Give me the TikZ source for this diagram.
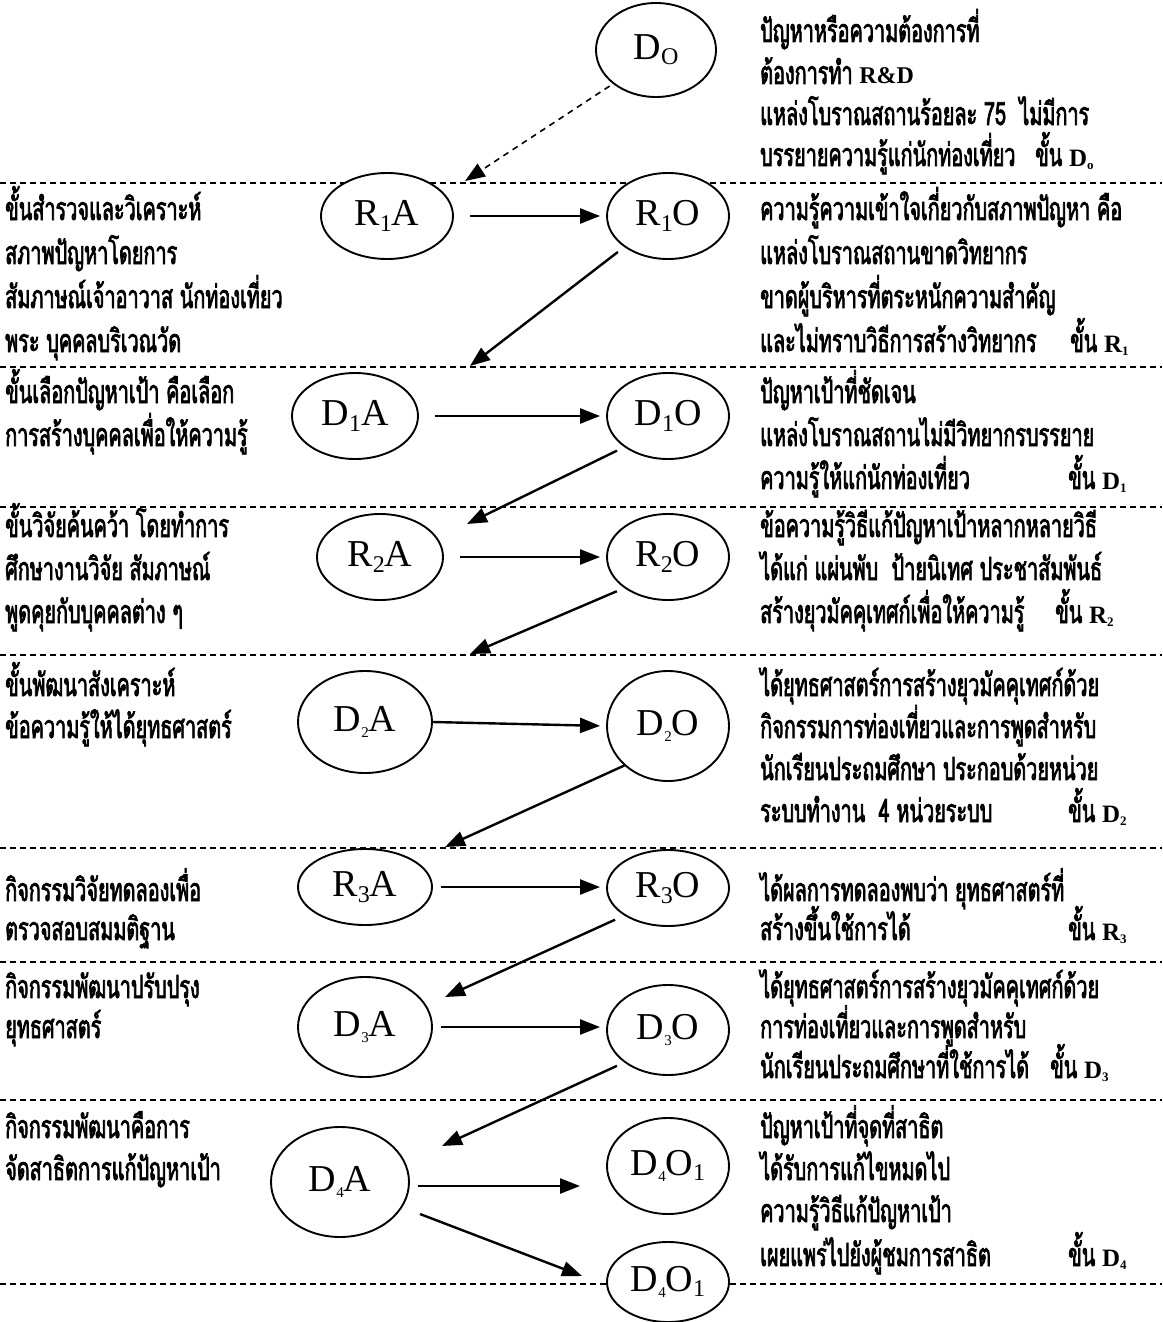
\documentclass[tikz,border=0pt]{standalone}
\usepackage{fontspec}
\setmainfont{Liberation Serif}
\newfontfamily\thaifont[Script=Thai,FakeStretch=0.62,FakeBold=2.2]{Loma}
\usetikzlibrary{arrows.meta,shapes.geometric}
\newcommand\sbs[1]{\raisebox{-0.3ex}{\fontsize{24}{24}\selectfont #1}}
\newcommand\sbt[1]{\raisebox{-0.35ex}{\fontsize{15}{15}\selectfont #1}}
\newcommand\stagelbl[2]{ขั้น {\rmfamily\bfseries\fontsize{25}{25}\selectfont #1\raisebox{-0.3ex}{\fontsize{13}{13}\selectfont #2}}}
\tikzset{
 oval/.style={ellipse,draw,line width=1.9pt,fill=white,inner sep=0pt,
   minimum width=126pt,minimum height=86pt,font=\fontsize{38}{38}\selectfont},
 th/.style={anchor=base west,inner sep=0pt,font=\thaifont\fontsize{32}{34}\selectfont},
 sep/.style={dash pattern=on 6pt off 4pt,line width=1.5pt},
 arr/.style={line width=2.4pt,-{Triangle[length=20pt,width=15pt]}},
 darr/.style={line width=1.6pt,dash pattern=on 6pt off 5pt,-{Triangle[length=20pt,width=15pt]}},
}
\begin{document}
\begin{tikzpicture}[x=1pt,y=-1pt]
\useasboundingbox (0,0) rectangle (1162,1322);
% separators
\foreach \yy in {183,367,507,655,848,962,1100,1284}
  \draw[sep] (0,\yy) -- (1162,\yy);
% ---------- row D0
\node[oval,minimum width=120pt,minimum height=94pt] (D0) at (656,50) {D\sbs{O}};
\node[th] (t0a) at (760,42) {ปัญหาหรือความต้องการที่};
\node[th] (t0b) at (760,84) {ต้องการทำ {\rmfamily\bfseries\fontsize{24}{24}\selectfont R\&D}};
\node[th] (t0c) at (760,125) {แหล่งโบราณสถานร้อยละ 75\ \ ไม่มีการ};
\node[th] (t0d) at (760,166) {บรรยายความรู้แก่นักท่องเที่ยว};
\node[th] (s0) at (1035,166) {\stagelbl{D}{o}};
\coordinate (tip0) at (465,181);
\draw[darr,shorten <=4pt] (D0.south west) -- (tip0);
% ---------- row R1
\node[th] (l1a) at (5,220) {ขั้นสำรวจและวิเคราะห์};
\node[th] (l1b) at (5,264) {สภาพปัญหาโดยการ};
\node[th] (l1c) at (5,308) {สัมภาษณ์เจ้าอาวาส นักท่องเที่ยว};
\node[th] (l1d) at (5,352) {พระ บุคคลบริเวณวัด};
\node[oval,minimum width=132pt] (R1A) at (387,216) {R\sbs{1}A};
\node[oval,minimum width=122pt] (R1O) at (668,216) {R\sbs{1}O};
\node[th] (r1a) at (760,220) {ความรู้ความเข้าใจเกี่ยวกับสภาพปัญหา คือ};
\node[th] (r1b) at (760,264) {แหล่งโบราณสถานขาดวิทยากร};
\node[th] (r1c) at (760,308) {ขาดผู้บริหารที่ตระหนักความสำคัญ};
\node[th] (r1d) at (760,352) {และไม่ทราบวิธีการสร้างวิทยากร};
\node[th] (s1) at (1070,352) {\stagelbl{R}{1}};
\draw[arr,shorten <=16pt,shorten >=6pt] (R1A.east) -- (R1O.west);
\coordinate (tip1) at (470,366);
\draw[arr,shorten <=8pt] (R1O.south west) -- (tip1);
% ---------- row D1
\node[th] (l2a) at (5,403) {ขั้นเลือกปัญหาเป้า คือเลือก};
\node[th] (l2b) at (5,446) {การสร้างบุคคลเพื่อให้ความรู้};
\node[oval] (D1A) at (355,416) {D\sbs{1}A};
\node[oval,minimum width=122pt] (D1O) at (668,416) {D\sbs{1}O};
\node[th] (r2a) at (760,403) {ปัญหาเป้าที่ชัดเจน};
\node[th] (r2b) at (760,446) {แหล่งโบราณสถานไม่มีวิทยากรบรรยาย};
\node[th] (r2c) at (760,489) {ความรู้ให้แก่นักท่องเที่ยว};
\node[th] (s2) at (1068,489) {\stagelbl{D}{1}};
\draw[arr,shorten <=16pt,shorten >=6pt] (D1A.east) -- (D1O.west);
\coordinate (tip2) at (467,524);
\draw[arr,shorten <=8pt] (D1O.south west) -- (tip2);
% ---------- row R2
\node[th] (l3a) at (5,537) {ขั้นวิจัยค้นคว้า โดยทำการ};
\node[th] (l3b) at (5,580) {ศึกษางานวิจัย สัมภาษณ์};
\node[th] (l3c) at (5,623) {พูดคุยกับบุคคลต่าง ๆ};
\node[oval] (R2A) at (380,557) {R\sbs{2}A};
\node[oval,minimum width=122pt] (R2O) at (668,557) {R\sbs{2}O};
\node[th] (r3a) at (760,537) {ข้อความรู้วิธีแก้ปัญหาเป้าหลากหลายวิธี};
\node[th] (r3b) at (760,580) {ได้แก่ แผ่นพับ\ \ ป้ายนิเทศ ประชาสัมพันธ์};
\node[th] (r3c) at (760,623) {สร้างยุวมัคคุเทศก์เพื่อให้ความรู้};
\node[th] (s3) at (1055,623) {\stagelbl{R}{2}};
\draw[arr,shorten <=16pt,shorten >=6pt] (R2A.east) -- (R2O.west);
\coordinate (tip3) at (470,654);
\draw[arr,shorten <=8pt] (R2O.south west) -- (tip3);
% ---------- row D2
\node[th] (l4a) at (5,696) {ขั้นพัฒนาสังเคราะห์};
\node[th] (l4b) at (5,738) {ข้อความรู้ให้ได้ยุทธศาสตร์};
\node[oval,minimum width=134pt,minimum height=102pt] (D2A) at (365,722) {D\sbt{2}A};
\node[oval,minimum width=122pt,minimum height=110pt] (D2O) at (668,726) {D\sbt{2}O};
\node[th] (r4a) at (760,696) {ได้ยุทธศาสตร์การสร้างยุวมัคคุเทศก์ด้วย};
\node[th] (r4b) at (760,738) {กิจกรรมการท่องเที่ยวและการพูดสำหรับ};
\node[th] (r4c) at (760,780) {นักเรียนประถมศึกษา ประกอบด้วยหน่วย};
\node[th] (r4d) at (760,822) {ระบบทำงาน\ \ 4 หน่วยระบบ};
\node[th] (s4) at (1068,822) {\stagelbl{D}{2}};
\draw[arr,shorten >=6pt] (D2A.east) -- (D2O.west);
\coordinate (tip4) at (445,847);
\draw[arr] (D2O.south west) -- (tip4);
% ---------- row R3
\node[th] (l5a) at (5,901) {กิจกรรมวิจัยทดลองเพื่อ};
\node[th] (l5b) at (5,940) {ตรวจสอบสมมติฐาน};
\node[oval,minimum width=134pt,minimum height=76pt] (R3A) at (365,887) {R\sbs{3}A};
\node[oval,minimum width=122pt,minimum height=76pt] (R3O) at (668,888) {R\sbs{3}O};
\node[th] (r5a) at (760,901) {ได้ผลการทดลองพบว่า ยุทธศาสตร์ที่};
\node[th] (r5b) at (760,940) {สร้างขึ้นใช้การได้};
\node[th] (s5) at (1068,940) {\stagelbl{R}{3}};
\draw[arr,shorten <=8pt,shorten >=6pt] (R3A.east) -- (R3A.east -| R3O.west);
\coordinate (tip5) at (445,997);
\draw[arr,shorten <=10pt] (R3O.south west) -- (tip5);
% ---------- row D3
\node[th] (l6a) at (5,998) {กิจกรรมพัฒนาปรับปรุง};
\node[th] (l6b) at (5,1038) {ยุทธศาสตร์};
\node[oval,minimum width=134pt,minimum height=100pt] (D3A) at (365,1027) {D\sbt{3}A};
\node[oval,minimum width=122pt,minimum height=90pt] (D3O) at (668,1030) {D\sbt{3}O};
\node[th] (r6a) at (760,998) {ได้ยุทธศาสตร์การสร้างยุวมัคคุเทศก์ด้วย};
\node[th] (r6b) at (760,1038) {การท่องเที่ยวและการพูดสำหรับ};
\node[th] (r6c) at (760,1078) {นักเรียนประถมศึกษาที่ใช้การได้};
\node[th] (s6) at (1050,1078) {\stagelbl{D}{3}};
\draw[arr,shorten <=8pt,shorten >=6pt] (D3A.east) -- (D3A.east -| D3O.west);
\coordinate (tip6) at (442,1146);
\draw[arr,shorten <=8pt] (D3O.south west) -- (tip6);
% ---------- row D4
\node[th] (l7a) at (5,1138) {กิจกรรมพัฒนาคือการ};
\node[th] (l7b) at (5,1180) {จัดสาธิตการแก้ปัญหาเป้า};
\node[oval,minimum width=138pt,minimum height=110pt] (D4A) at (340,1182) {D\sbt{4}A};
\node[oval,minimum width=122pt,minimum height=96pt] (D4Oa) at (668,1166) {D\sbt{4}O\sbs{1}};
\node[oval,minimum width=122pt,minimum height=80pt] (D4Ob) at (668,1282) {D\sbt{4}O\sbs{1}};
\node[th] (r7a) at (760,1138) {ปัญหาเป้าที่จุดที่สาธิต};
\node[th] (r7b) at (760,1180) {ได้รับการแก้ไขหมดไป};
\node[th] (r7c) at (760,1222) {ความรู้วิธีแก้ปัญหาเป้า};
\node[th] (r7d) at (760,1266) {เผยแพร่ไปยังผู้ชมการสาธิต};
\node[th] (s7) at (1068,1266) {\stagelbl{D}{4}};
\coordinate (st7a) at (418,1186);
\coordinate (tip7a) at (580,1186);
\draw[arr] (st7a) -- (tip7a);
\coordinate (st7b) at (420,1214);
\coordinate (tip7b) at (582,1276);
\draw[arr] (st7b) -- (tip7b);
\end{tikzpicture}
\end{document}
